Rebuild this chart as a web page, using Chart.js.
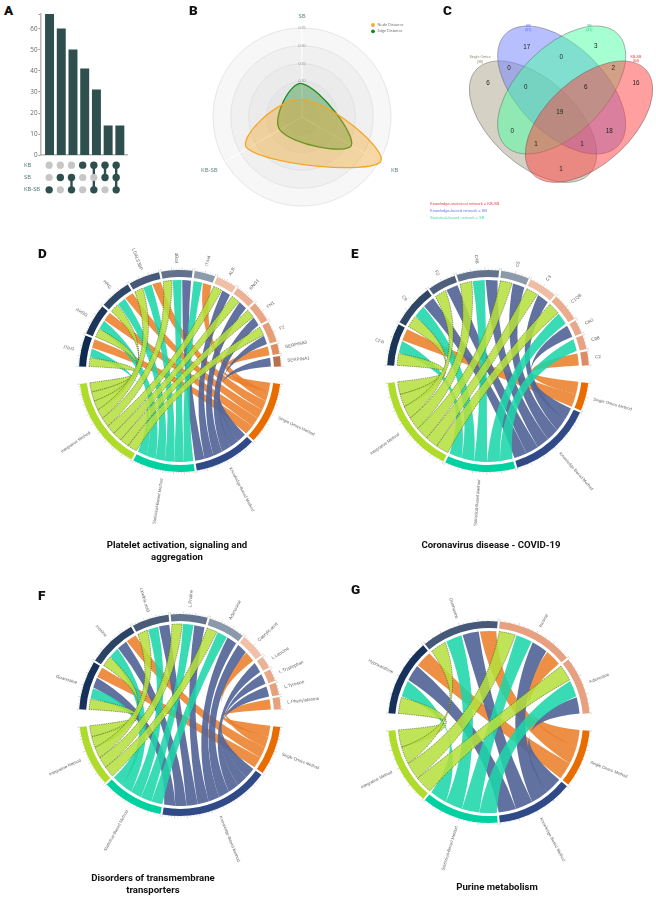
<!DOCTYPE html>
<html><head><meta charset="utf-8">
<script src="https://cdn.jsdelivr.net/npm/chart.js@4"></script>
<style>
html,body{margin:0;padding:0;background:#fff;width:656px;height:897px;overflow:hidden}
canvas{position:absolute}
.tag{position:absolute;font:900 13.5px/14px Roboto,sans-serif;color:#111}
.title{position:absolute;font:700 9.6px/11.5px Roboto,sans-serif;color:#111;text-align:center;width:220px}
.leg{position:absolute;font:4px/5px "Liberation Sans",sans-serif;white-space:nowrap}
</style></head><body>
<canvas id="a1" width="108" height="152" style="left:20px;top:8px"></canvas>
<canvas id="a2" width="103" height="45" style="left:24px;top:155px"></canvas>
<canvas id="b" width="246" height="246" style="left:179px;top:-6px"></canvas>
<canvas id="c" width="236" height="225" style="left:420px;top:0"></canvas>
<canvas id="d" width="330" height="330" style="left:15px;top:206px"></canvas>
<canvas id="e" width="330" height="330" style="left:323px;top:206px"></canvas>
<canvas id="f" width="330" height="330" style="left:15px;top:550px"></canvas>
<canvas id="g" width="330" height="330" style="left:324px;top:557px"></canvas>
<div class="tag" style="left:4px;top:3px">A</div><div class="tag" style="left:189px;top:3px">B</div><div class="tag" style="left:443px;top:3px">C</div>
<div class="tag" style="left:38px;top:246px">D</div><div class="tag" style="left:351px;top:246px">E</div>
<div class="tag" style="left:38px;top:588px">F</div><div class="tag" style="left:351px;top:582px">G</div>
<div class="title" style="left:67px;top:539px">Platelet activation, signaling and<br>aggregation</div>
<div class="title" style="left:381px;top:539px">Coronavirus disease - COVID-19</div>
<div class="title" style="left:43px;top:872px">Disorders of transmembrane<br>transporters</div>
<div class="title" style="left:387px;top:881px">Purine metabolism</div>
<div class="leg" style="left:430px;top:201px;color:#e8474f">Knowledge-statistical network = KB-SB</div>
<div class="leg" style="left:430px;top:208px;color:#6a78ee">Knowledge-based network = KB</div>
<div class="leg" style="left:430px;top:215px;color:#4fe0a8">Statistical-based network = SB</div>
<script>
// ---------- A: UpSet ----------
const upsetSizes=[67,60,50,41,31,14,14];
const upsetRows=["KB","SB","KB-SB"];
const memberKB=[0,0,0,1,1,1,1];
const memberSB=[0,1,1,0,0,1,1];
const memberKBSB=[1,0,1,0,1,0,1];
// ---------- B: radar ----------
const radarAxes=["SB","KB","KB-SB"];
const nodeDistance=[0.049,0.254,0.177];
const edgeDistance=[0.094,0.160,0.072];
// ---------- C: Venn ----------
const vennNames=["Single Omics","KB","SB","KB-SB"];
const vennSizes=[38,61,31,64];
const vennCounts=[17,3,6,0,0,2,16,0,6,19,0,18,1,1,1];
const vennAnchors=[[320,142],[527,140],[204,250],[267,205],[424,171],[580,204],[648,249],[317,262],[497,262],[419,338],[277,393],[568,393],[348,432],[486,432],[423,509]];
// ---------- D-G: chord ----------
const methodNames=["Single Omics Method","Knowledge-Based Method","Statistical-Based Method","Integrative Method"];
const itemsD=["ITIH3","AHSG","HRG","LGALS3BP","dBait","ITIH4","ALB","KNG1","FN1","F2","SERPINA3","SERPINA1"];
const singleD=[1,1,1,1,0,1,0,0,0,0,1,0];
const knowledgeD=[0,0,0,0,1,0,1,1,1,1,0,1];
const statisticalD=[1,1,1,1,1,1,0,0,0,0,0,0];
const integrativeD=[1,1,1,1,1,0,1,1,1,1,0,0];
const itemsE=["CFB","C9","F2","C4B","C5","C3","C1QB","C8G","C8B","C2"];
const singleE=[1,0,0,0,0,0,0,0,0,1];
const knowledgeE=[0,1,1,1,1,1,0,1,0,0];
const statisticalE=[1,1,0,1,0,0,1,0,1,0];
const integrativeE=[1,1,1,1,1,1,1,0,0,0];
const itemsF=["Guanosine","Inosine","Linoleic.acid","L.Proline","Adenosine","Caprylic.acid","L.Leucine","L.Tryptophan","L.Tyrosine","L.Phenylalanine"];
const singleF=[1,1,0,0,0,1,0,0,0,1];
const knowledgeF=[1,1,1,1,1,1,1,1,1,0];
const statisticalF=[1,1,1,1,1,0,0,0,0,0];
const integrativeF=[1,1,1,1,1,0,0,0,0,0];
const itemsG=["Hypoxanthine","Guanosine","Inosine","Adenosine"];
const singleG=[1,1,1,0];
const knowledgeG=[1,1,1,1];
const statisticalG=[1,1,1,1];
const integrativeG=[1,1,1,1];
const colorsD=["#0f2a50","#1c3558","#2e4868","#46597a","#62718c","#8c9bac","#efbfa8","#ecb095","#e9a583","#e69d74","#de8c62","#b9704d"];
const colorsE=["#1b3558","#2f4764","#4e5f7b","#64738d","#8d9aaa","#efbca4","#ebac8e","#e9a88a","#e8a283","#df8c66"];
const colorsF=["#16325a","#2c4365","#4a5c78","#64738e","#8c99ab","#f0c0a8","#ecb295","#e9a888","#e6a07c","#e5a27d"];
const colorsG=["#16325a","#46597a","#e8a180","#e8a180"];
const methodTrack=["#e86c00","#2f4a87","#00d1a0","#afdc2a"];
const ribbonFill=["rgba(236,128,44,.88)","rgba(84,102,152,.92)","rgba(30,214,170,.88)","rgba(182,224,60,.86)"];

Chart.defaults.animation=false;
Chart.defaults.responsive=false;
Chart.defaults.maintainAspectRatio=false;
Chart.defaults.plugins.legend.display=false;
Chart.defaults.plugins.tooltip.enabled=false;

// A bars
new Chart(document.getElementById("a1"),{type:"bar",
 data:{datasets:[{data:upsetSizes.map((v,i)=>({x:i,y:v})),backgroundColor:"#2f4f4f",barThickness:8.3}]},
 options:{layout:{padding:{top:6,bottom:4,right:1,left:0}},
  scales:{
   x:{type:"linear",offset:false,min:-0.73,max:6.61,ticks:{display:false},afterFit:s=>{s.height=0},
      grid:{offset:false,drawOnChartArea:false,drawTicks:false},border:{color:"#b9b9b9",width:1.5}},
   y:{min:0,max:67,afterFit:s=>{s.width=21},
      ticks:{stepSize:10,padding:1,color:"#666",font:{family:"Open Sans",size:6.3},autoSkip:false,callback:v=>v%10===0?String(v):""},
      grid:{drawOnChartArea:false,tickLength:2.5,color:"#999"},border:{color:"#b9b9b9",width:1.5}}
  }}});
// A matrix
const members=[memberKB,memberSB,memberKBSB];
const offPts=[],matrixSets=[];
upsetSizes.forEach((_,c)=>{
  const on=[];
  upsetRows.forEach((r,ri)=>{ (members[ri][c]?on:offPts).push({x:c,y:r}); });
  matrixSets.push({data:on,showLine:true,borderColor:"#2f4f4f",borderWidth:2.4,backgroundColor:"#2f4f4f",pointBackgroundColor:"#2f4f4f",pointBorderWidth:0,pointRadius:3.7,clip:false});
});
matrixSets.unshift({data:offPts,showLine:false,pointBackgroundColor:"#c6c6c6",pointBorderWidth:0,pointRadius:3.6,clip:false});
new Chart(document.getElementById("a2"),{type:"scatter",data:{datasets:matrixSets},
 options:{layout:{padding:{top:2.5,bottom:3.5,left:0,right:0}},
  scales:{
   x:{type:"linear",display:false,min:-0.73,max:6.61},
   y:{type:"category",labels:upsetRows,offset:true,afterFit:s=>{s.width=17},
      ticks:{crossAlign:"far",padding:0,color:"#4a7474",font:{family:"Open Sans",size:5.8}},
      grid:{display:false},border:{display:false}}
  }}});

// B radar
const legendCols=["#f5a623","#118a11"];
const ringPlugin={id:"rings",
 beforeDraw(c){
  const s=c.scales.r,ctx=c.ctx;
  [[.25,"#f7f7f7"],[.2,"#f0f0f0"],[.15,"#ebebeb"],[.1,"#e6e6e6"],[.05,"#e3e3e3"]].forEach(([v,col])=>{
    ctx.beginPath();ctx.arc(s.xCenter,s.yCenter,s.getDistanceFromCenterForValue(v),0,Math.PI*2);
    ctx.fillStyle=col;ctx.fill();
  });
 },
 afterDraw(c){
  const s=c.scales.r,ctx=c.ctx;
  ctx.save();ctx.fillStyle="#5d7d7d";ctx.font='6px "Open Sans"';ctx.textAlign="center";ctx.textBaseline="middle";
  radarAxes.forEach((t,i)=>{const p=s.getPointPosition(i,i===0?101:107);ctx.fillText(t,p.x,p.y);});
  ctx.textAlign="left";ctx.font='3.8px "Open Sans"';
  c.data.datasets.forEach((d,i)=>{
    const lx=s.xCenter+71,ly=s.yCenter-92+i*6.3;
    ctx.beginPath();ctx.arc(lx,ly,1.9,0,Math.PI*2);ctx.fillStyle=legendCols[i];ctx.fill();
    ctx.fillStyle="#666";ctx.fillText(d.label,lx+4.5,ly);
  });
  ctx.restore();
 }};
new Chart(document.getElementById("b"),{type:"radar",plugins:[ringPlugin],
 data:{labels:radarAxes,datasets:[
  {label:"Node Distance",data:nodeDistance,borderColor:"#f5a623",backgroundColor:"rgba(245,166,35,.38)",borderWidth:1.3,pointRadius:0,tension:.42},
  {label:"Edge Distance",data:edgeDistance,borderColor:"#1a8a1e",backgroundColor:"rgba(30,140,40,.38)",borderWidth:1.3,pointRadius:0,tension:.42}]},
 options:{layout:{padding:30},
  scales:{r:{min:0,max:.25,beginAtZero:true,
    ticks:{stepSize:.05,showLabelBackdrop:false,color:"#8a8a8a",font:{size:3.6},callback:v=>v>=.09?v.toFixed(2):""},
    grid:{circular:true,color:"#dcdcdc",lineWidth:.7},
    angleLines:{color:"#ffffff",lineWidth:1},
    pointLabels:{display:false}}}}});

// C venn (drawn in venn coordinates through the chart's scales)
const vennEllipses=[
 {cx:339,cy:365,a:231,b:128,rot:42.4,fill:"rgba(171,165,139,.5)"},
 {cx:425,cy:270,a:238,b:131,rot:45,fill:"rgba(112,128,255,.5)"},
 {cx:425,cy:270,a:238,b:131,rot:-45,fill:"rgba(75,255,161,.5)"},
 {cx:507,cy:365,a:231,b:128,rot:-42.4,fill:"rgba(255,64,64,.5)"}];
const vennLabelPos=[[180,172,"#8b8a6c"],[325,78,"#5f6cff"],[508,78,"#2fd08e"],[648,170,"#e53535"]];
const vennPlugin={id:"venn",
 beforeDatasetsDraw(c){
  const X=c.scales.x,Y=c.scales.y,ctx=c.ctx,kx=X.getPixelForValue(1)-X.getPixelForValue(0);
  vennEllipses.forEach(e=>{
   ctx.beginPath();
   ctx.ellipse(X.getPixelForValue(e.cx),Y.getPixelForValue(e.cy),e.a*kx,e.b*kx,e.rot*Math.PI/180,0,Math.PI*2);
   ctx.fillStyle=e.fill;ctx.fill();ctx.strokeStyle="rgba(90,90,90,.65)";ctx.lineWidth=.7;ctx.stroke();
  });
 },
 afterDatasetsDraw(c){
  const X=c.scales.x,Y=c.scales.y,ctx=c.ctx;
  ctx.save();ctx.textAlign="center";ctx.textBaseline="middle";
  c.getDatasetMeta(0).data.forEach((p,i)=>{
   ctx.fillStyle="#222";ctx.font='6.3px "Liberation Sans"';ctx.fillText(String(vennCounts[i]),p.x,p.y);
  });
  ctx.font='3.6px "Liberation Sans"';
  vennNames.forEach((n,i)=>{
   const [x,y,col]=vennLabelPos[i];ctx.fillStyle=col;
   ctx.fillText(n,X.getPixelForValue(x),Y.getPixelForValue(y));
   ctx.fillText("("+vennSizes[i]+")",X.getPixelForValue(x),Y.getPixelForValue(y+13));
  });
  ctx.restore();
 }};
new Chart(document.getElementById("c"),{type:"scatter",plugins:[vennPlugin],
 data:{datasets:[{data:vennCounts.map((v,i)=>({x:vennAnchors[i][0],y:vennAnchors[i][1]})),pointRadius:0}]},
 options:{layout:{padding:0},scales:{x:{display:false,type:"linear",min:0,max:708},y:{display:false,type:"linear",min:0,max:675,reverse:true}}}});

// D-G chord diagrams: outer track is a doughnut, ribbons read its arcs
function ribbonEdge(ctx,cx,cy,R,t1,t2){
 // quadratic edge from angle t1 to t2: apex sits on the short-arc mid direction
 const sx=Math.cos(t1)+Math.cos(t2),sy=Math.sin(t1)+Math.sin(t2);
 const beta=Math.atan2(sy,sx);
 let d=Math.abs(Math.atan2(Math.sin(t2-t1),Math.cos(t2-t1)));
 const apex=R*Math.min(.47,.29*(Math.PI-d));
 const rc=2*(apex-.5*R*Math.cos(d/2));
 ctx.quadraticCurveTo(cx+rc*Math.cos(beta),cy+rc*Math.sin(beta),cx+R*Math.cos(t2),cy+R*Math.sin(t2));
}
function chord(id,items,colors,cols){
 const bigGap=10,smallGap=1.2,R=91;
 const itemN=items.map((_,i)=>cols.reduce((s,m)=>s+m[i],0));
 const methodN=cols.map(m=>m.reduce((s,v)=>s+v,0));
 const total=itemN.reduce((s,v)=>s+v,0);
 const k=items.length+cols.length;
 const unit=(360-2*bigGap-(k-2)*smallGap)/(2*total);
 const top=total*unit+(items.length-1)*smallGap;
 const data=[],bg=[],names=[],sector=[];
 itemN.forEach((n,i)=>{data.push(n);bg.push(colors[i]);names.push(items[i]);sector.push({kind:"item",i,n});
   if(i<items.length-1){data.push(smallGap/unit);bg.push("rgba(0,0,0,0)");names.push("");sector.push(null);}});
 data.push(bigGap/unit);bg.push("rgba(0,0,0,0)");names.push("");sector.push(null);
 methodN.forEach((n,i)=>{data.push(n);bg.push(methodTrack[i]);names.push(methodNames[i]);sector.push({kind:"method",i,n});
   if(i<methodN.length-1){data.push(smallGap/unit);bg.push("rgba(0,0,0,0)");names.push("");sector.push(null);}});
 data.push(bigGap/unit);bg.push("rgba(0,0,0,0)");names.push("");sector.push(null);
 const plugin={id:"chord"+id,
  beforeDatasetsDraw(c){
   const arcs=c.getDatasetMeta(0).data,ctx=c.ctx,cx=arcs[0].x,cy=arcs[0].y;
   const itemArc=[],methodArc=[];
   sector.forEach((s,i)=>{if(s){(s.kind==="item"?itemArc:methodArc)[s.i]=arcs[i];}});
   const du=(itemArc[0].endAngle-itemArc[0].startAngle)/itemN[0];
   const itemCur=itemArc.map(a=>a.startAngle),slots=[];
   items.forEach((_,i)=>{for(let m=3;m>=0;m--){if(cols[m][i]){slots.push({i,m,a0:itemCur[i],a1:itemCur[i]+du});itemCur[i]+=du;}}});
   const methodCur=methodArc.map(a=>a.startAngle);
   for(let m=0;m<4;m++){for(let i=items.length-1;i>=0;i--){if(cols[m][i]){const s=slots.find(q=>q.i===i&&q.m===m);s.b0=methodCur[m];s.b1=methodCur[m]+du;methodCur[m]+=du;}}}
   for(let m=0;m<4;m++){slots.filter(s=>s.m===m).forEach(s=>{
     const ins=du*.035,a0=s.a0+ins,a1=s.a1-ins;
     ctx.beginPath();ctx.arc(cx,cy,R,a0,a1);
     ribbonEdge(ctx,cx,cy,R,a1,s.b0);
     ctx.arc(cx,cy,R,s.b0,s.b1);
     ribbonEdge(ctx,cx,cy,R,s.b1,a0);
     ctx.closePath();ctx.fillStyle=ribbonFill[m];ctx.fill();
     if(m===3){ctx.save();ctx.setLineDash([1.3,.9]);ctx.lineWidth=.45;ctx.strokeStyle="#1d1d1d";ctx.stroke();ctx.restore();}
   });}
  },
  afterDatasetsDraw(c){
   const arcs=c.getDatasetMeta(0).data,ctx=c.ctx;
   ctx.save();ctx.textBaseline="middle";
   arcs.forEach((a,idx)=>{
    const s=sector[idx];if(!s)return;
    const cx=a.x,cy=a.y,ro=a.outerRadius,sw=(a.endAngle-a.startAngle)/(s.n*4);
    ctx.strokeStyle="#9a9a9a";ctx.lineWidth=.4;
    for(let j=0;j<=s.n*4;j++){
     const t=a.startAngle+j*sw,l=j%4===0?2.6:1.2;
     ctx.beginPath();ctx.moveTo(cx+ro*Math.cos(t),cy+ro*Math.sin(t));ctx.lineTo(cx+(ro+l)*Math.cos(t),cy+(ro+l)*Math.sin(t));ctx.stroke();
    }
    const mid=(a.startAngle+a.endAngle)/2,norm=Math.atan2(Math.sin(mid),Math.cos(mid)),r=s.kind==="item"?108:109;
    ctx.save();ctx.translate(cx+r*Math.cos(mid),cy+r*Math.sin(mid));
    ctx.fillStyle="#666";ctx.font=(s.kind==="item"?'4.5px':'4.2px')+' "Liberation Sans"';
    if(Math.cos(norm)>=0){ctx.rotate(norm);ctx.textAlign="left";}
    else{ctx.rotate(norm+Math.PI);ctx.textAlign="right";}
    ctx.fillText(names[idx],0,0);ctx.restore();
   });
   ctx.restore();
  }};
 new Chart(document.getElementById(id),{type:"doughnut",plugins:[plugin],
  data:{labels:names,datasets:[{data,backgroundColor:bg,borderWidth:0}]},
  options:{rotation:-top/2,radius:101,cutout:"93.07%",layout:{padding:0}}});
}
chord("d",itemsD,colorsD,[singleD,knowledgeD,statisticalD,integrativeD]);
chord("e",itemsE,colorsE,[singleE,knowledgeE,statisticalE,integrativeE]);
chord("f",itemsF,colorsF,[singleF,knowledgeF,statisticalF,integrativeF]);
chord("g",itemsG,colorsG,[singleG,knowledgeG,statisticalG,integrativeG]);
</script>
</body></html>
